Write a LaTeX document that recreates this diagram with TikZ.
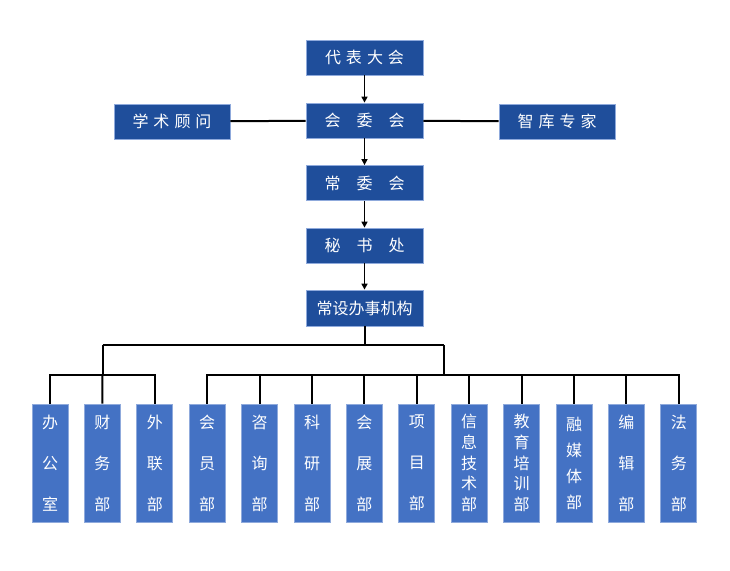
\documentclass[tikz,border=0pt]{standalone}
\usepackage{fontspec}
\setmainfont{Noto Sans CJK SC}
\usetikzlibrary{arrows.meta}
\definecolor{topblue}{HTML}{1F4E9B}
\definecolor{botblue}{HTML}{4472C4}
\definecolor{edgeblue}{HTML}{8FAADC}
\tikzset{
  topbox/.style={draw=edgeblue, line width=0.8pt, fill=topblue, text=white,
    minimum width=117pt, minimum height=35pt, inner sep=0pt,
    font=\fontsize{16}{16}\selectfont},
  deptbox/.style={draw=edgeblue, line width=0.8pt, fill=botblue, text=white,
    minimum width=36pt, minimum height=118pt, inner sep=0pt, align=center},
  three/.style={font=\fontsize{16}{41}\selectfont},
  four/.style={font=\fontsize{16}{26}\selectfont},
  five/.style={font=\fontsize{16}{20.6}\selectfont},
  conn/.style={line width=2pt, black},
  flow/.style={line width=1.6pt, black, -{Triangle[length=6pt,width=6pt]}}
}
\newcommand{\gs}{\hspace{5pt}}
\newcommand{\gw}{\hspace{16pt}}
\begin{document}
\begin{tikzpicture}[x=1pt,y=-1pt]
\useasboundingbox (0,0) rectangle (730,570);
\node[topbox] (dbdh) at (364.5,57.5) {代\gs 表\gs 大\gs 会};
\node[topbox] (hwh) at (364.5,120.5) {会\gw 委\gw 会};
\node[topbox, minimum width=116pt] (xsgw) at (172,121.5) {学\gs 术\gs 顾\gs 问};
\node[topbox, minimum width=116pt] (zkzj) at (557,121.5) {智\gs 库\gs 专\gs 家};
\node[topbox] (cwh) at (364.5,183) {常\gw 委\gw 会};
\node[topbox] (msc) at (364.5,245.5) {秘\gw 书\gw 处};
\node[topbox, minimum height=36pt] (csbs) at (364.5,308) {常设办事机构};

\draw[flow] (dbdh) -- (hwh);
\draw[flow] (hwh) -- (cwh);
\draw[flow] (cwh) -- (msc);
\draw[flow] (msc) -- (csbs);
\draw[conn] (xsgw) -- (hwh);
\draw[conn] (hwh) -- (zkzj);

\foreach \i/\txt/\st in {
  0/办\\公\\室/three, 1/财\\务\\部/three, 2/外\\联\\部/three,
  3/会\\员\\部/three, 4/咨\\询\\部/three, 5/科\\研\\部/three,
  6/会\\展\\部/three, 7/项\\目\\部/three, 8/信\\息\\技\\术\\部/five,
  9/教\\育\\培\\训\\部/five, 10/融\\媒\\体\\部/four, 11/编\\辑\\部/three,
  12/法\\务\\部/three}{
  \node[deptbox, \st] (d\i) at ({50+52.4*\i},463) {\txt};
}

\coordinate (bus) at (364.5,345);
\coordinate (busL) at (102.5,345);
\coordinate (busR) at (443.5,345);
\coordinate (subL) at (102.5,375);
\coordinate (subR) at (443.5,375);
\draw[conn] (csbs.south) -- (bus);
\draw[conn] (busL) -- (busR);
\draw[conn] (busL) -- (subL);
\draw[conn] (busR) -- (subR);
\draw[conn] (d0.north) |- (subL) -| (d2.north);
\draw[conn] (d1.north) -- (subL);
\draw[conn] (d3.north) |- (subR) -| (d12.north);
\foreach \i in {4,...,11}{
  \draw[conn] (d\i.north) -- (d\i.north |- subR);
}
\end{tikzpicture}
\end{document}
